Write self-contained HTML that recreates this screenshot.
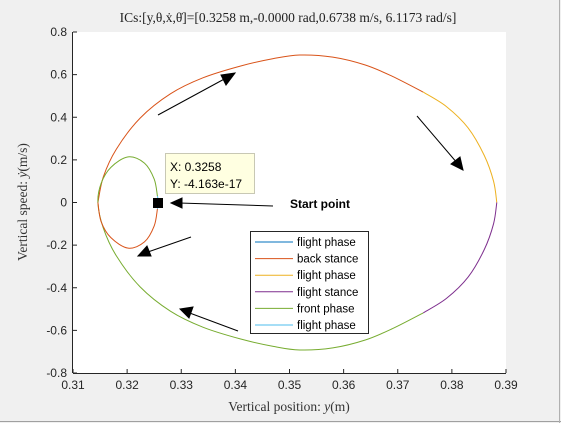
<!DOCTYPE html>
<html><head><meta charset="utf-8"><style>
body{margin:0;background:#f0f0f0;}
svg{display:block;font-family:"Liberation Sans",sans-serif;}
</style></head><body>
<svg id="chart" width="561" height="423">
<rect x="0" y="0" width="561" height="423" fill="#f0f0f0"/>
<line x1="0" y1="421.5" x2="561" y2="421.5" stroke="#a0a0a0"/>
<line x1="559.5" y1="0" x2="559.5" y2="423" stroke="#b0b0b0"/>
<rect x="73" y="32" width="433" height="341" fill="#fff"/>
<g id="grid"></g>
<g id="series"></g>
<text x="288" y="22" text-anchor="middle" font-family="Liberation Serif,serif" font-size="13.5" fill="#222">ICs:[y,θ,ẋ,θ̇]=[0.3258 m,-0.0000 rad,0.6738 m/s, 6.1173 rad/s]</text>
<text x="289" y="411" text-anchor="middle" font-family="Liberation Serif,serif" font-size="13.5" fill="#333">Vertical position: <tspan font-style="italic">y</tspan>(m)</text>
<text transform="translate(27,202) rotate(-90)" text-anchor="middle" font-family="Liberation Serif,serif" font-size="13.5" fill="#333">Vertical speed: <tspan font-style="italic">ẏ</tspan>(m/s)</text>
<g stroke="#000" stroke-width="1" fill="#000">
<line x1="158" y1="115" x2="228" y2="77"/><polygon points="235,73 221,75 226,85"/>
<line x1="417" y1="116" x2="458" y2="164"/><polygon points="463,170 451,164 460,157"/>
<line x1="238" y1="331" x2="187" y2="312"/><polygon points="180,309 193,307 189,318"/>
<line x1="191" y1="237" x2="145" y2="253"/><polygon points="138,256 147,246 151,256"/>
<line x1="273" y1="206" x2="179" y2="203"/><polygon points="171,203 182,198 182,208"/>
</g>
<rect x="153" y="198" width="10" height="10" fill="#000"/>
<g>
<rect x="165.5" y="153.5" width="89" height="40" fill="#ffffe1" stroke="#c8c8b4"/>
<text x="170" y="171" font-size="12" fill="#000">X: 0.3258</text>
<text x="170" y="188" font-size="12" fill="#000">Y: -4.163e-17</text>
</g>
<text x="290" y="208" font-size="12" font-weight="bold" fill="#000">Start point</text>
<g id="legend"></g>
</svg>
<script>
const xTicks=[0.31,0.32,0.33,0.34,0.35,0.36,0.37,0.38,0.39];
const yTicks=[-0.8,-0.6,-0.4,-0.2,0,0.2,0.4,0.6,0.8];
const seriesNames=["flight phase","back stance","flight phase","flight stance","front phase","flight phase"];
const seriesColors=["#0072BD","#D95319","#EDB120","#7E2F8E","#77AC30","#4DBEEE"];
const segBackStanceX=[0.3146,0.3156,0.3180,0.3224,0.3280,0.3340,0.3409,0.3470,0.3519,0.3580,0.3640,0.3690,0.3747];
const segBackStanceY=[0,0.12,0.25,0.396,0.51,0.585,0.64,0.675,0.692,0.682,0.645,0.592,0.518];
const segFlight2X=[0.3747,0.3790,0.3830,0.3860,0.3877,0.3883];
const segFlight2Y=[0.518,0.45,0.35,0.22,0.10,0];
const segFlightStanceX=[0.3883,0.3877,0.3860,0.3830,0.3790,0.3747];
const segFlightStanceY=[0,-0.10,-0.22,-0.35,-0.45,-0.518];
const segFrontX=[0.3747,0.3690,0.3640,0.3580,0.3519,0.3470,0.3409,0.3340,0.3280,0.3224,0.3180,0.3156,0.3146,0.3152,0.3170,0.3202,0.3232,0.3250,0.3256];
const segFrontY=[-0.518,-0.592,-0.645,-0.682,-0.692,-0.675,-0.64,-0.585,-0.51,-0.396,-0.25,-0.12,0,0.09,0.165,0.214,0.185,0.11,0.03];
const segFlight3X=[0.3256,0.3258,0.3256];
const segFlight3Y=[0.03,0,-0.03];
const segBackSmallX=[0.3256,0.3250,0.3232,0.3202,0.3170,0.3152,0.3146];
const segBackSmallY=[-0.03,-0.11,-0.185,-0.214,-0.165,-0.09,0];

const L=73,R=506,T=32,B=373,x0=0.31,x1=0.39,y0=-0.8,y1=0.8;
const sx=v=>L+(v-x0)/(x1-x0)*(R-L);
const sy=v=>B-(v-y0)/(y1-y0)*(B-T);
const NS="http://www.w3.org/2000/svg";
const g=document.getElementById('grid'),s=document.getElementById('series'),lg=document.getElementById('legend');
function mk(tag,attrs,parent){const e=document.createElementNS(NS,tag);for(const k in attrs)e.setAttribute(k,attrs[k]);parent.appendChild(e);return e;}
let ax=mk('line',{x1:L,y1:B+0.5,x2:R,y2:B+0.5,stroke:'#262626'},g);


let ay=mk('line',{x1:L-0.5,y1:T,x2:L-0.5,y2:B,stroke:'#262626'},g);


xTicks.forEach(v=>{const X=sx(v);mk('line',{x1:X,y1:B,x2:X,y2:B-4,stroke:'#262626'},g);
const t=mk('text',{x:X,y:B+16,'text-anchor':'middle','font-size':'12',fill:'#262626'},g);t.textContent=v.toFixed(2);

});
yTicks.forEach(v=>{const Y=sy(v);mk('line',{x1:L,y1:Y,x2:L+4,y2:Y,stroke:'#262626'},g);
const t=mk('text',{x:L-6,y:Y+4,'text-anchor':'end','font-size':'12',fill:'#262626'},g);t.textContent=(v===0?'0':v.toFixed(1));

});
function path(xs,ys){let d='';const p=xs.map((x,i)=>[sx(x),sy(ys[i])]);
d='M'+p[0][0]+','+p[0][1];
for(let i=0;i<p.length-1;i++){const a=p[i-1]||p[i],b=p[i],c=p[i+1],e=p[i+2]||c;
d+=' C'+(b[0]+(c[0]-a[0])/6)+','+(b[1]+(c[1]-a[1])/6)+' '+(c[0]-(e[0]-b[0])/6)+','+(c[1]-(e[1]-b[1])/6)+' '+c[0]+','+c[1];}
return d;}
const segs=[[segBackStanceX,segBackStanceY,1,'back-stance-big'],[segFlight2X,segFlight2Y,2,'flight-phase-2'],[segFlightStanceX,segFlightStanceY,3,'flight-stance'],[segFrontX,segFrontY,4,'front-phase'],[segBackSmallX,segBackSmallY,1,'back-stance-small'],[segFlight3X,segFlight3Y,5,'flight-phase-start']];
segs.forEach(([xs,ys,ci,n])=>{const p=mk('path',{d:path(xs,ys),fill:'none',stroke:seriesColors[ci],'stroke-width':'1'},s);

});
mk('rect',{x:250.5,y:231.5,width:118,height:102,fill:'#fff',stroke:'#262626'},lg);
seriesNames.forEach((n,i)=>{const Y=242+i*16.6;
const l=mk('line',{x1:255,y1:Y,x2:293,y2:Y,stroke:seriesColors[i],'stroke-width':'1'},lg);


const t=mk('text',{x:297,y:Y+4,'font-size':'11.5',fill:'#000'},lg);t.textContent=n;

});
</script>
</body></html>
